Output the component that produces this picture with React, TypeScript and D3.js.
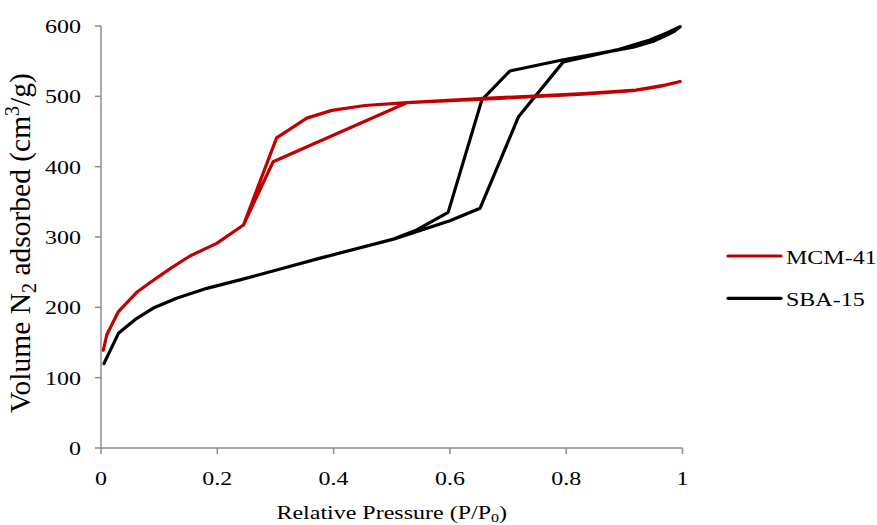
import React from "react";
import * as d3 from "d3";

const xTicks = [0, 0.2, 0.4, 0.6, 0.8, 1];
const yTicks = [0, 100, 200, 300, 400, 500, 600];

// MCM-41: adsorption then desorption
const mcmX = [0.004, 0.01, 0.03, 0.061, 0.084, 0.119, 0.153, 0.199, 0.245, 0.302, 0.354, 0.397, 0.454, 0.526, 0.657, 0.829, 0.915, 0.961, 0.996,
  0.97, 0.92, 0.83, 0.66, 0.526, 0.296, 0.245];
const mcmY = [139, 161, 194, 221, 235, 255, 273, 291, 317, 441, 469, 480, 487, 491, 496, 503, 508, 514, 521,
  516, 509, 504, 497, 491, 407, 317];

// SBA-15: adsorption then desorption
const sbaX = [0.005, 0.03, 0.061, 0.09, 0.13, 0.182, 0.239, 0.302, 0.377, 0.503, 0.6, 0.652, 0.718, 0.795, 0.887, 0.944, 0.973, 0.996,
  0.985, 0.973, 0.949, 0.915, 0.85, 0.795, 0.703, 0.655, 0.597, 0.543, 0.503];
const sbaY = [120, 163, 184, 199, 213, 227, 239, 253, 270, 297, 323, 341, 471, 549, 566, 580, 590, 599,
  592, 587, 578, 570, 560, 552, 536, 495, 335, 310, 297];

const seriesNames = ["MCM-41", "SBA-15"];
const seriesColors = ["#C00000", "#000000"];

const FONT = "Liberation Serif, Times New Roman, Times, serif";
const SY = 0.82;
const ts: React.CSSProperties = { fontFamily: FONT };

export default function App() {
  const x = d3.scaleLinear().domain([0, 1]).range([101, 682.5]);
  const y = d3.scaleLinear().domain([0, 600]).range([448, 26]);
  const line = d3.line<[number, number]>().x((d) => x(d[0])).y((d) => y(d[1]));
  const mcm = mcmX.map((v, i) => [v, mcmY[i]] as [number, number]);
  const sba = sbaX.map((v, i) => [v, sbaY[i]] as [number, number]);
  const axisColor = "#8c8c8c";
  return (
    <svg width={877} height={525} style={{ position: "absolute", left: 0, top: 0, background: "#fff", fontFamily: FONT }}>
      <rect width={877} height={525} fill="#fff" />
      <line x1={x(0)} x2={x(0)} y1={y(0)} y2={y(600)} stroke={axisColor} strokeWidth={1.5} />
      <line x1={x(0)} x2={x(1)} y1={y(0)} y2={y(0)} stroke={axisColor} strokeWidth={1.5} />
      {yTicks.map((t) => (
        <g key={"y" + t}>
          <line x1={x(0) - 6} x2={x(0)} y1={y(t)} y2={y(t)} stroke={axisColor} strokeWidth={1.5} />
          <text style={ts} transform={`translate(81,${y(t) + 7}) scale(1,${SY})`} fontSize={24} textAnchor="end" fill="#000">{t}</text>
        </g>
      ))}
      {xTicks.map((t) => (
        <g key={"x" + t}>
          <line x1={x(t)} x2={x(t)} y1={y(0)} y2={y(0) + 6} stroke={axisColor} strokeWidth={1.5} />
          <text style={ts} transform={`translate(${x(t)},485) scale(1,${SY})`} fontSize={24} textAnchor="middle" fill="#000">{t}</text>
        </g>
      ))}
      <path d={line(sba) || ""} fill="none" stroke={seriesColors[1]} strokeWidth={3.2} strokeLinejoin="round" strokeLinecap="round" />
      <path d={line(mcm) || ""} fill="none" stroke={seriesColors[0]} strokeWidth={3.2} strokeLinejoin="round" strokeLinecap="round" />
      <text style={ts} transform={`translate(391.7,519) scale(1,${SY})`} fontSize={24} textAnchor="middle" fill="#000">
        Relative Pressure (P/P<tspan fontSize={16} dy={4}>0</tspan><tspan dy={-4}>)</tspan>
      </text>
      <text style={ts} transform={`translate(30,243) rotate(-90)`} fontSize={29.5} textAnchor="middle" fill="#000">
        Volume N<tspan fontSize={20} dy={6}>2</tspan><tspan dy={-6}> adsorbed (cm</tspan><tspan fontSize={20} dy={-11}>3</tspan><tspan dy={11}>/g)</tspan>
      </text>
      {seriesNames.map((n, i) => (
        <g key={n}>
          <line x1={728} x2={781} y1={256 + i * 42.3} y2={256 + i * 42.3} stroke={seriesColors[i]} strokeWidth={3.2} strokeLinecap="round" />
          <text style={ts} transform={`translate(786,${263.5 + i * 42.3}) scale(1,${SY})`} fontSize={24} fill="#000">{n}</text>
        </g>
      ))}
    </svg>
  );
}
